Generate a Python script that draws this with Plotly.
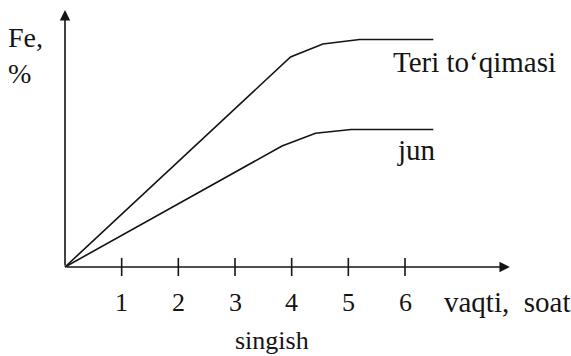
import plotly.graph_objects as go

# Data (time in hours, Fe content in arbitrary % units)
teri_time = [0, 3.98, 4.55, 5.2, 6.5]
teri_fe = [0, 8.4, 8.92, 9.1, 9.1]
jun_time = [0, 3.83, 4.42, 5.05, 6.5]
jun_fe = [0, 4.84, 5.35, 5.5, 5.5]
tick_vals = [1, 2, 3, 4, 5, 6]
tick_labels = ["1", "2", "3", "4", "5", "6"]

W, H = 571, 356
FONT = "Liberation Serif"
INK = "#141414"

fig = go.Figure()
fig.add_trace(go.Scatter(x=teri_time, y=teri_fe, mode="lines",
                         line=dict(color=INK, width=1.6), hoverinfo="skip"))
fig.add_trace(go.Scatter(x=jun_time, y=jun_fe, mode="lines",
                         line=dict(color=INK, width=1.6), hoverinfo="skip"))
# tick marks crossing the x axis
fig.add_trace(go.Scatter(x=tick_vals, y=[0] * len(tick_vals), mode="markers",
                         marker=dict(symbol="line-ns", size=13,
                                     line=dict(color=INK, width=1.6)),
                         hoverinfo="skip"))

# axis arrows
fig.add_annotation(x=7.85, y=0, ax=0, ay=0, xref="x", yref="y", axref="x", ayref="y",
                   text="", showarrow=True, arrowhead=2, arrowsize=1.3, arrowwidth=1.6,
                   arrowcolor=INK)
fig.add_annotation(x=0, y=10.28, ax=0, ay=0, xref="x", yref="y", axref="x", ayref="y",
                   text="", showarrow=True, arrowhead=2, arrowsize=1.3, arrowwidth=1.6,
                   arrowcolor=INK)

# tick labels
for v, lab in zip(tick_vals, tick_labels):
    fig.add_annotation(x=v, y=-1.4, xref="x", yref="y", text=lab, showarrow=False,
                       font=dict(family=FONT, size=26, color=INK))

def px(xp, yp):
    return xp / W, 1 - yp / H

def label(text, xp, yp, size, xanchor="left"):
    x, y = px(xp, yp)
    fig.add_annotation(x=x, y=y, xref="paper", yref="paper", text=text,
                       showarrow=False, xanchor=xanchor, yanchor="middle", align="left",
                       font=dict(family=FONT, size=size, color=INK))

label("Fe,<br>%", 6, 56, 28)
label("Teri to‘qimasi", 391, 62, 29)
label("jun", 395, 150, 29)
label("vaqti,  soat", 572, 302, 29, xanchor="right")
label("singish", 272, 340, 26, xanchor="center")

x_unit = (405 - 65) / 6
y_unit = 25
fig.update_layout(
    width=W, height=H, margin=dict(l=0, r=0, t=0, b=0),
    paper_bgcolor="white", plot_bgcolor="white", showlegend=False,
    xaxis=dict(range=[-65 / x_unit, (W - 65) / x_unit], visible=False, fixedrange=True),
    yaxis=dict(range=[-(H - 267) / y_unit, 267 / y_unit], visible=False, fixedrange=True),
)
fig.write_html("out.html", config={"displayModeBar": False},
               post_script="document.body.style.margin='0';document.body.style.overflow='hidden';")
